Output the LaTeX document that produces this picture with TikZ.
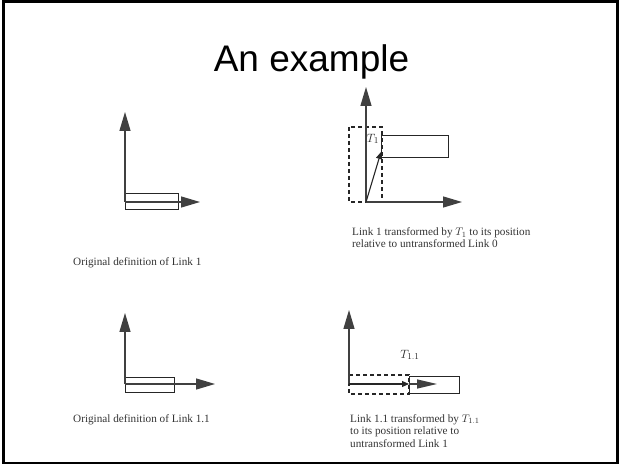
\documentclass[tikz,border=0pt]{standalone}
\usepackage{fontspec}
\setmainfont{Liberation Serif}
\newfontfamily\slidefont{Liberation Sans}
\usetikzlibrary{arrows.meta}

\tikzset{
  axis/.style={draw=black!75,line width=1.3pt,-{Triangle[length=19pt,width=11pt]}},
  shift arrow/.style={draw=black!85,line width=1.1pt,-{Triangle[length=7pt,width=6pt]}},
  link/.style={draw=black!85,line width=1pt},
  ghost/.style={draw=black!85,line width=1.2pt,dash pattern=on 4pt off 3pt},
  caption/.style={anchor=base west,align=left,inner sep=0pt,text=black!80,
    font=\fontsize{11.2}{12.5}\selectfont},
  tlabel/.style={inner sep=0pt,text=black!85,font=\fontsize{12.5}{13}\selectfont},
}

\begin{document}
\begin{tikzpicture}[x=1pt,y=-1pt]
\useasboundingbox (0,0) rectangle (619,465);
\draw[black,line width=2.5pt] (3.5,1.5) rectangle (617.5,463);     % slide frame
\node[anchor=base,inner sep=0pt,font=\slidefont\fontsize{37}{40}\selectfont] (title) at (311.5,72) {An example};

% Link 1, as first defined
\coordinate (o1) at (125,202); \coordinate (y1) at (125,112); \coordinate (x1) at (200,202);
\draw[link] (125,194) rectangle (178,210);
\draw[axis] (o1) -- (y1);
\draw[axis] (o1) -- (x1);
\node[caption] (cap1) at (73,266) {Original definition of Link 1};

% Link 1 moved by T1
\coordinate (o2) at (366,202); \coordinate (y2) at (366,87); \coordinate (x2) at (462,202);
\coordinate (t1) at (381,152);
\draw[ghost] (349,127) rectangle (382,202);                        % where it was
\draw[link] (381,136) rectangle (448,158);                         % where it is now
\draw[axis] (o2) -- (y2);
\draw[axis] (o2) -- (x2);
\draw[shift arrow] (o2) -- (t1);
\node[tlabel] (T1) at (373,139) {$T_1$};
\node[caption] (cap2) at (352,248) {Link 1 transformed by $T_1$ to its position\\relative to untransformed Link 0};

% Link 1.1, as first defined
\coordinate (o3) at (125,384); \coordinate (y3) at (125,313); \coordinate (x3) at (215,384);
\draw[link] (125,377) rectangle (174,392);
\draw[axis] (o3) -- (y3);
\draw[axis] (o3) -- (x3);
\node[caption] (cap3) at (73,422) {Original definition of Link 1.1};

% Link 1.1 moved by T1.1
\coordinate (o4) at (349,384); \coordinate (y4) at (349,310);
\coordinate (t2) at (409,384); \coordinate (x4) at (437,384);
\draw[ghost] (349,375) rectangle (409,394);                        % where it was
\draw[link] (409,376) rectangle (459,393);                         % where it is now
\draw[axis] (o4) -- (y4);
\draw[shift arrow] (o4) -- (t2);
\draw[axis,-{Triangle[length=20pt,width=9pt]}] (t2) -- (x4);
\node[tlabel] (T11) at (410,355) {$T_{1.1}$};
\node[caption] (cap4) at (350,447) {Link 1.1 transformed by $T_{1.1}$\\to its position relative to\\untransformed Link 1};
\end{tikzpicture}
\end{document}
